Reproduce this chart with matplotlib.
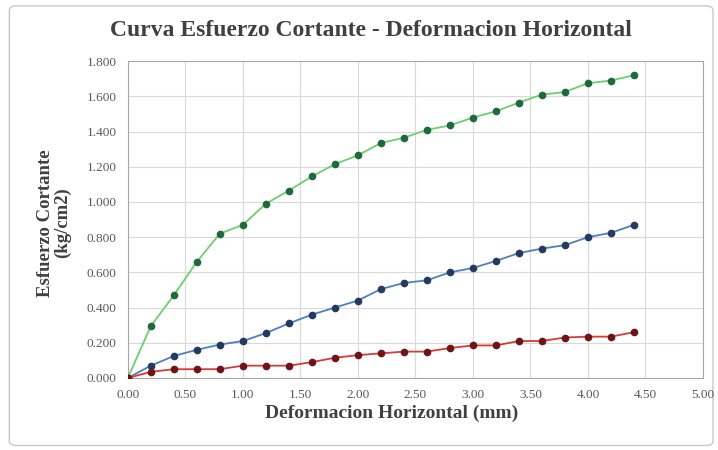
import numpy as np
from matplotlib import pyplot as plt
from matplotlib.patches import FancyBboxPatch

plt.rcParams['font.family'] = ['Liberation Serif', 'DejaVu Serif']

# deformacion horizontal (mm)
deform = [0.0, 0.2, 0.4, 0.6, 0.8, 1.0, 1.2, 1.4, 1.6, 1.8, 2.0, 2.2,
          2.4, 2.6, 2.8, 3.0, 3.2, 3.4, 3.6, 3.8, 4.0, 4.2, 4.4]

# esfuerzo cortante (kg/cm2) por ensayo
esf_verde = [0.000, 0.295, 0.470, 0.660, 0.820, 0.870, 0.990, 1.065, 1.145, 1.215, 1.265, 1.335,
             1.365, 1.410, 1.435, 1.480, 1.515, 1.565, 1.610, 1.625, 1.675, 1.690, 1.720]
esf_azul = [0.000, 0.070, 0.125, 0.160, 0.190, 0.210, 0.255, 0.310, 0.360, 0.400, 0.440, 0.505,
            0.540, 0.555, 0.600, 0.625, 0.665, 0.710, 0.735, 0.755, 0.800, 0.825, 0.870]
esf_rojo = [0.000, 0.035, 0.050, 0.050, 0.050, 0.070, 0.070, 0.070, 0.090, 0.115, 0.130, 0.140,
            0.150, 0.150, 0.170, 0.185, 0.185, 0.210, 0.210, 0.230, 0.235, 0.235, 0.260]

xticks = [0.0, 0.5, 1.0, 1.5, 2.0, 2.5, 3.0, 3.5, 4.0, 4.5, 5.0]
yticks = [0.0, 0.2, 0.4, 0.6, 0.8, 1.0, 1.2, 1.4, 1.6, 1.8]

fig = plt.figure(figsize=(7.18, 4.5), dpi=100)
fig.patch.set_facecolor('white')

# marco del grafico estilo excel
marco = FancyBboxPatch((0.013, 0.01), 0.98, 0.977, boxstyle='round,pad=0,rounding_size=0.01',
                       transform=fig.transFigure, facecolor='white', edgecolor='#c8c8c8',
                       linewidth=1.0, zorder=-10)
fig.patches.append(marco)

ax = fig.add_axes([0.178, 0.16, 0.801, 0.704])

ax.plot(deform, esf_verde, color='#6ccf6c', lw=1.3, marker='o', ms=4.5,
        mfc='#1e6a3c', mec='#1e6a3c', zorder=3)
ax.plot(deform, esf_azul, color='#4f7fc0', lw=1.3, marker='o', ms=4.5,
        mfc='#243a5e', mec='#243a5e', zorder=3)
ax.plot(deform, esf_rojo, color='#d83a3a', lw=1.3, marker='o', ms=4.5,
        mfc='#6e1414', mec='#6e1414', zorder=3)

ax.set_xlim(0, 5)
ax.set_ylim(0, 1.8)
ax.set_xticks(xticks)
ax.set_yticks(yticks)
ax.set_xticklabels(['%.2f' % v for v in xticks])
ax.set_yticklabels(['%.3f' % v for v in yticks])
ax.tick_params(labelsize=9.5, colors='#595959', length=0)
ax.tick_params(axis='x', pad=8)
ax.tick_params(axis='y', pad=8)
ax.grid(True, color='#d9d9d9', lw=0.8)
ax.set_axisbelow(True)
for s in ax.spines.values():
    s.set_color('#a6a6a6')
    s.set_linewidth(0.8)

ax.set_xlabel('Deformacion Horizontal (mm)', fontsize=14, fontweight='bold',
              color='#404040')
ax.xaxis.set_label_coords(0.459, -0.085)
ax.set_ylabel('Esfuerzo Cortante\n(kg/cm2)', fontsize=13.5, fontweight='bold',
              color='#404040', linespacing=1.0)
ax.yaxis.set_label_coords(-0.098, 0.49)

fig.text(0.517, 0.932, 'Curva Esfuerzo Cortante - Deformacion Horizontal', ha='center', va='center',
         fontsize=17, fontweight='bold', color='#404040')

fig.savefig('out.png', dpi=100)
